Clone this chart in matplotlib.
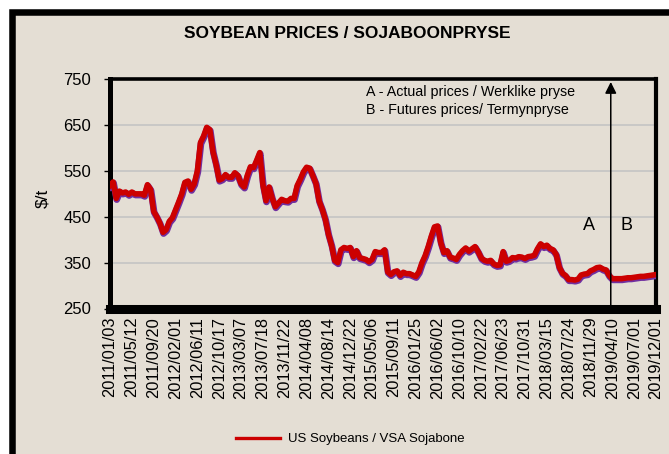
import matplotlib
matplotlib.use("Agg")
import matplotlib.pyplot as plt
import matplotlib.transforms as mtransforms
from matplotlib.patches import Rectangle
from matplotlib.lines import Line2D

plt.rcParams['font.family'] = ['Liberation Sans', 'DejaVu Sans']

# ---------------- data ----------------
tick_labels = ["2011/01/03", "2011/05/12", "2011/09/20", "2012/02/01", "2012/06/11",
               "2012/10/17", "2013/03/07", "2013/07/18", "2013/11/22", "2014/04/08",
               "2014/08/14", "2014/12/22", "2015/05/06", "2015/09/11", "2016/01/25",
               "2016/06/02", "2016/10/10", "2017/02/22", "2017/06/23", "2017/10/31",
               "2018/03/15", "2018/07/24", "2018/11/29", "2019/04/10", "2019/07/01",
               "2019/12/01"]
points_per_label = 7

actual_prices = [518, 526, 490, 506, 502, 504, 499, 504, 500, 500,
                 500, 497, 520, 510, 462, 450, 436, 416, 422, 440,
                 448, 465, 482, 500, 525, 528, 510, 522, 550, 612,
                 626, 645, 640, 592, 564, 530, 533, 542, 536, 536,
                 546, 540, 522, 515, 540, 559, 557, 573, 590, 520,
                 485, 515, 490, 472, 480, 488, 485, 484, 490, 490,
                 518, 532, 548, 558, 556, 540, 523, 485, 467, 445,
                 412, 388, 355, 350, 378, 383, 381, 383, 363, 376,
                 361, 359, 357, 352, 357, 374, 372, 372, 378, 330,
                 324, 330, 332, 322, 329, 326, 326, 323, 320, 330,
                 350, 365, 385, 408, 428, 430, 394, 372, 376, 362,
                 360, 357, 368, 376, 382, 375, 380, 385, 374, 360,
                 355, 353, 355, 347, 344, 345, 374, 353, 355, 361,
                 360, 363, 362, 359, 363, 364, 366, 380, 391, 385,
                 388, 381, 378, 368, 340, 327, 322, 313, 313, 312,
                 314, 323, 325, 326, 332, 335, 339, 340, 336, 334,
                 322]
futures_prices = [315, 315, 315, 315, 316, 317, 317, 318, 319, 320,
                  320, 321, 322, 323, 324]

prices = actual_prices + futures_prices
series_name = "US Soybeans / VSA Sojabone"
title = "SOYBEAN PRICES / SOJABOONPRYSE"
y_ticks = [250, 350, 450, 550, 650, 750]
note_a = "A - Actual prices / Werklike pryse"
note_b = "B - Futures prices/ Termynpryse"

# ---------------- figure ----------------
W, H = 669, 454
fig = plt.figure(figsize=(W / 100, H / 100), dpi=100)
fig.patch.set_facecolor("white")
bg = "#E4DED4"
fig.patches.append(Rectangle((12.3 / W, -0.05), 1.1, 1 - 11.7 / H + 0.05,
                             transform=fig.transFigure, facecolor=bg,
                             edgecolor="black", linewidth=4.7, zorder=-10))

ax = fig.add_axes([110 / W, 1 - 308.5 / H, (656 - 110) / W, (308.5 - 79.2) / H])
ax.set_zorder(2)
ax.set_facecolor("none")

x = list(range(len(prices)))
off = mtransforms.offset_copy(ax.transData, fig=fig, x=0.5, y=-1.2, units='dots')
ax.plot(x, prices, color="#7030A0", linewidth=4.8, transform=off, zorder=3,
        solid_joinstyle='round')
ax.plot(x, prices, color="#CC0000", linewidth=4.0, zorder=4, solid_joinstyle='round')

ax.set_xlim(0, len(prices) - 1)
ax.set_ylim(250, 750)
ax.set_yticks(y_ticks)
ax.set_yticklabels([str(v) for v in y_ticks], fontsize=12)
ax.yaxis.grid(True, color="#C4C4C4", linewidth=1.2)
ax.set_axisbelow(True)
ax.tick_params(axis='y', direction='out', length=4.5, width=1, pad=9, colors='black')

tick_pos = [i * points_per_label for i in range(len(tick_labels))]
ax.set_xticks(tick_pos)
ax.set_xticklabels(tick_labels, rotation=90, fontsize=11.8, va='top', ha='center')
ax.tick_params(axis='x', length=0, pad=6)

for side, lw in (("left", 3.6), ("bottom", 6.5), ("top", 2.6), ("right", 3.0)):
    ax.spines[side].set_linewidth(lw)
    ax.spines[side].set_color("black")

# split arrow between actual and futures
split = len(actual_prices) - 0.5
ax.annotate("", xy=(split, 744), xytext=(split, 250),
            arrowprops=dict(arrowstyle='-|>', color='black', lw=1.1,
                            mutation_scale=17, shrinkA=0, shrinkB=0),
            zorder=5)
ax.text(split - 7, 430, "A", fontsize=13, ha='center', va='center')
ax.text(split + 5, 430, "B", fontsize=13, ha='center', va='center')

ax.text(0.469, 0.944, note_a, transform=ax.transAxes, fontsize=10.3, ha='left', va='center')
ax.text(0.469, 0.866, note_b, transform=ax.transAxes, fontsize=10.3, ha='left', va='center')

fig.text(347 / W, 1 - 33 / H, title, fontsize=12.5, fontweight='bold',
         ha='center', va='center')
fig.text(42.5 / W, 1 - 198 / H, "$/t", fontsize=12.5, rotation=90,
         ha='center', va='center')

handle = Line2D([], [], color="#CC0000", linewidth=2.4)
fig.legend([handle], [series_name], loc='center', bbox_to_anchor=(350 / W, 1 - 439 / H),
           frameon=False, fontsize=9.5, handlelength=3.4, handletextpad=0.55)

fig.savefig("out.png", dpi=100, facecolor=fig.get_facecolor())
